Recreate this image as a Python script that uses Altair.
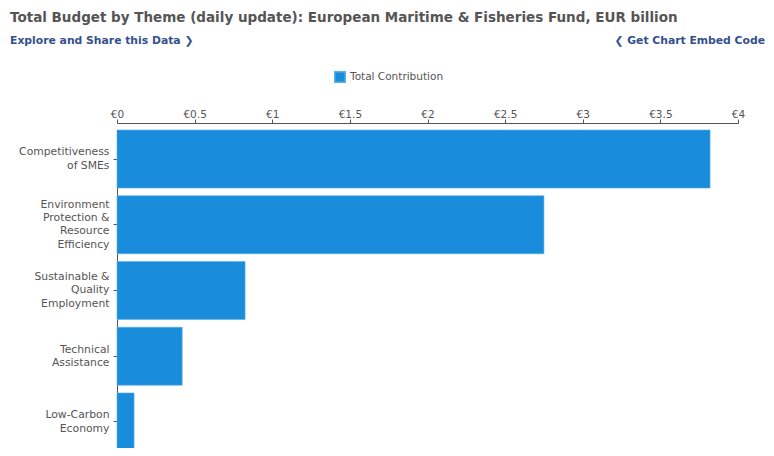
import altair as alt
import pandas as pd

themes = [
    "Competitiveness|of SMEs",
    "Environment|Protection &|Resource|Efficiency",
    "Sustainable &|Quality|Employment",
    "Technical|Assistance",
    "Low-Carbon|Economy",
]
values = [3.82, 2.75, 0.825, 0.42, 0.11]
series = ["Total Contribution"] * len(themes)
x_ticks = [0, 0.5, 1, 1.5, 2, 2.5, 3, 3.5, 4]

df = pd.DataFrame({"theme": themes, "value": values, "series": series})

FONT = "DejaVu Sans"
GREY = "#555555"
BLUE = "#1a8cdc"
LH = 13.3

bars = alt.Chart(df).mark_bar(color=BLUE, stroke="#5ab0ea", strokeWidth=0.6).encode(
    x=alt.X(
        "value:Q",
        scale=alt.Scale(domain=[0, 4], nice=False),
        axis=alt.Axis(
            orient="top",
            values=x_ticks,
            labelExpr="'€' + datum.value",
            title=None,
            grid=False,
            domainColor=GREY,
            tickColor=GREY,
            tickSize=4,
            labelColor=GREY,
            labelFont=FONT,
            labelFontSize=10.5,
            labelPadding=0,
            labelFlush=False,
        ),
    ),
    y=alt.Y(
        "theme:N",
        sort=themes,
        scale=alt.Scale(paddingInner=0.117, paddingOuter=0, range=[7, 328]),
        axis=alt.Axis(
            title=None,
            labelExpr="split(datum.label, '|')",
            labelColor=GREY,
            labelFont=FONT,
            labelFontSize=10.8,
            labelLineHeight=LH,
            labelOffset={
                "condition": [
                    {"test": "length(split(datum.value, '|')) == 4", "value": -1.5 * LH},
                    {"test": "length(split(datum.value, '|')) == 3", "value": -1.0 * LH},
                ],
                "value": -0.5 * LH,
            },
            domainColor=GREY,
            tickColor=GREY,
            tickSize=4,
            labelPadding=4,
        ),
    ),
    color=alt.Color(
        "series:N",
        scale=alt.Scale(range=[BLUE]),
        legend=alt.Legend(
            title=None,
            orient="none",
            legendX=217,
            legendY=-52,
            symbolType="square",
            symbolSize=110,
            labelColor=GREY,
            labelFont=FONT,
            labelFontSize=10.5,
        ),
    ),
)

title_df = pd.DataFrame({"t": ["Total Budget by Theme (daily update): European Maritime & Fisheries Fund, EUR billion"]})
title = alt.Chart(title_df).mark_text(
    align="left", baseline="middle", font=FONT, fontSize=13.5, fontWeight="bold", color=GREY
).encode(text="t:N", x=alt.value(-107), y=alt.value(-105))

sub_df = pd.DataFrame({"t": ["Explore and Share this Data  \u276f"]})
sub = alt.Chart(sub_df).mark_text(
    align="left", baseline="middle", font=FONT, fontSize=10.8, fontWeight="bold", color="#34508c"
).encode(text="t:N", x=alt.value(-107), y=alt.value(-82))

emb_df = pd.DataFrame({"t": ["\u276e Get Chart Embed Code"]})
emb = alt.Chart(emb_df).mark_text(
    align="right", baseline="middle", font=FONT, fontSize=10.8, fontWeight="bold", color="#34508c"
).encode(text="t:N", x=alt.value(648), y=alt.value(-82))

chart = alt.layer(bars, title, sub, emb).properties(
    width=621,
    height=325,
    autosize=alt.AutoSizeParams(type="none"),
    padding={"left": 109, "top": 115, "right": 28, "bottom": 0},
).configure_view(stroke=None)

chart.save("out.html", embed_options={"renderer": "svg", "actions": False})
